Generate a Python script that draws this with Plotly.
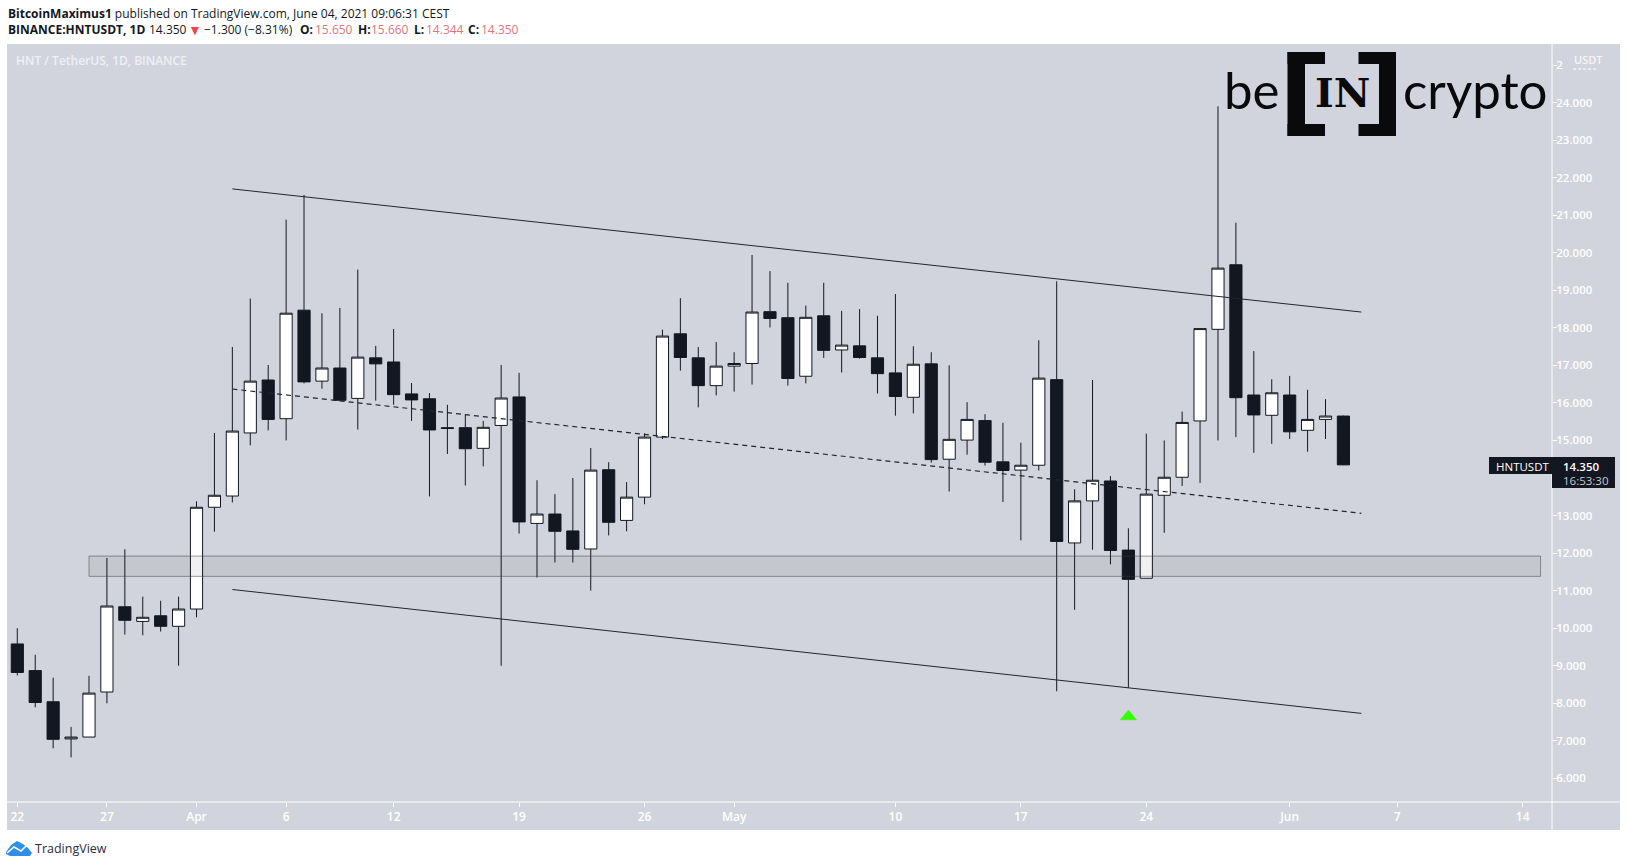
import plotly.graph_objects as go
import pandas as pd

# ---------- data ----------
dates = [str(d.date()) for d in pd.date_range("2021-03-22", "2021-06-04")]
opens = [9.58,8.87,8.04,7.05,7.10,8.30,10.57,10.18,10.33,10.05,10.51,13.22,13.52,15.20,16.61,15.58,18.47,16.58,16.93,16.12,17.20,17.09,16.24,16.11,15.34,15.34,14.79,15.40,16.16,12.79,13.04,12.59,12.11,14.22,12.87,13.49,15.09,17.84,17.20,16.46,16.98,17.05,18.43,18.27,16.71,18.32,17.41,17.52,17.20,16.80,16.15,17.04,14.50,15.01,15.53,14.43,14.21,14.34,16.62,12.27,13.39,13.92,12.08,11.33,13.54,14.02,15.52,17.96,19.68,16.21,15.67,16.21,15.27,15.56,15.65]
highs = [10.00,9.29,8.68,7.37,8.73,11.87,12.10,10.84,10.73,10.84,13.38,15.20,17.49,18.78,17.01,20.88,21.54,18.39,18.53,19.55,17.52,17.97,16.53,16.26,15.95,15.70,15.52,17.01,16.80,13.94,13.57,14.00,14.80,14.42,13.89,15.19,17.95,18.79,17.49,17.62,17.35,19.94,19.51,19.20,18.59,19.20,18.45,18.50,18.32,18.90,17.51,17.35,17.00,16.02,15.70,15.47,14.94,17.67,19.24,13.70,16.61,14.05,12.66,15.18,15.00,15.77,17.98,23.90,20.80,17.38,16.63,16.72,16.35,16.10,15.66]
lows = [8.74,7.89,6.80,6.56,7.10,8.00,9.83,9.81,9.91,9.00,10.29,12.57,13.35,14.87,15.27,15.00,16.52,16.38,16.07,15.29,16.06,15.95,15.52,13.51,14.64,13.80,14.31,9.00,12.52,11.35,11.75,11.75,11.00,12.47,12.58,13.30,15.04,16.86,15.88,16.20,16.30,16.49,18.01,16.46,16.52,17.20,16.81,17.18,16.25,15.66,15.72,14.41,13.64,14.62,14.33,13.36,12.34,14.20,8.32,10.49,12.09,11.70,8.41,11.33,12.54,13.79,13.87,15.00,15.09,14.67,14.91,15.04,14.70,15.04,14.344]
closes = [8.82,8.02,7.04,7.10,8.27,10.59,10.21,10.29,10.05,10.51,13.22,13.54,15.25,16.58,15.56,18.39,16.56,16.93,16.07,17.22,17.04,16.22,16.08,15.28,15.32,14.78,15.35,16.13,12.83,13.04,12.58,12.10,14.21,12.82,13.49,15.09,17.78,17.21,16.46,16.98,17.05,18.42,18.25,16.65,18.28,17.40,17.54,17.21,16.78,16.17,17.03,14.49,15.03,15.56,14.42,14.20,14.34,16.66,12.31,13.39,13.94,12.07,11.30,13.57,14.02,15.48,17.98,19.59,16.14,15.68,16.27,15.23,15.56,15.65,14.35]

channel_x = ["2021-04-03", "2021-06-05"]
channel_top = [21.70, 18.42]
channel_mid = [16.37, 13.06]
channel_bottom = [11.03, 7.73]
zone_x = ["2021-03-26", "2021-06-15"]
zone_y = [11.38, 11.92]
signal_x = ["2021-05-22 13:00", "2021-05-23 00:00", "2021-05-23 11:00", "2021-05-22 13:00"]
signal_y = [7.56, 7.82, 7.56, 7.56]

y_ticks = list(range(6, 26))
y_labels = ["%d.000" % v if v != 14 else "" for v in y_ticks]
y_labels[-1] = "2"
x_ticks = ["2021-03-22","2021-03-27","2021-04-01","2021-04-06","2021-04-12","2021-04-19","2021-04-26","2021-05-01","2021-05-10","2021-05-17","2021-05-24","2021-06-01","2021-06-07","2021-06-14"]
x_labels = ["22","27","Apr","6","12","19","26","May","10","17","24","Jun","7","14"]

# ---------- layout constants ----------
W, H = 1627, 867
L, R, T, B = 7, 1552, 44, 802
BG = "#d1d4dc"
DARK = "#131722"
FONT = "Open Sans"
def px(x): return (x - L) / (R - L)
def py(y): return (B - y) / (B - T)

fig = go.Figure()
fig.add_trace(go.Candlestick(
    x=dates, open=opens, high=highs, low=lows, close=closes,
    whiskerwidth=0,
    increasing=dict(fillcolor="#ffffff", line=dict(color=DARK, width=1)),
    decreasing=dict(fillcolor=DARK, line=dict(color=DARK, width=1)),
    showlegend=False, hoverinfo="skip"))
for ys, dash, lw in ((channel_top, "solid", 1), (channel_mid, "5px,4px", 1.2), (channel_bottom, "solid", 1)):
    fig.add_trace(go.Scatter(x=channel_x, y=ys, mode="lines", showlegend=False, hoverinfo="skip",
                             line=dict(color="#22252e", width=lw, dash=dash)))
fig.add_trace(go.Scatter(x=signal_x, y=signal_y, mode="lines", fill="toself", fillcolor="#33ff00",
                         line=dict(color="#33ff00", width=0.5), showlegend=False, hoverinfo="skip"))

def rect(x0, y0, x1, y1, color, layer="above"):
    fig.add_shape(type="rect", xref="paper", yref="paper", x0=px(x0), x1=px(x1), y0=py(y0), y1=py(y1),
                  fillcolor=color, line=dict(width=0), layer=layer)
def text(x, y, s, size, color="#ffffff", anchor="left", family=FONT, weight=None):
    font = dict(family=family, size=size, color=color)
    if weight:
        font["weight"] = weight
    fig.add_annotation(xref="paper", yref="paper", x=px(x), y=py(y), text=s, showarrow=False,
                       xanchor=anchor, yanchor="middle", align="left", borderpad=0, font=font)

# panel behind the chart
rect(7, 44, 1620, 830, BG, layer="below")
# zone
fig.add_shape(type="rect", xref="x", yref="y", x0=zone_x[0], x1=zone_x[1], y0=zone_y[0], y1=zone_y[1],
              fillcolor="rgba(25,25,25,0.065)", line=dict(color="rgba(60,62,66,0.5)", width=1), layer="above")
# axis lines extending into the panel
fig.add_shape(type="line", xref="paper", yref="paper", x0=px(R), x1=px(R), y0=py(44), y1=py(830),
              line=dict(color="#ffffff", width=1), layer="above")
fig.add_shape(type="line", xref="paper", yref="paper", x0=px(7), x1=px(1620), y0=py(802), y1=py(802),
              line=dict(color="#ffffff", width=1), layer="above")

# header
INK = "#131722"
red = "#dd7680"
text(7, 13, "<b>BitcoinMaximus1</b> published on TradingView.com, June 04, 2021 09:06:31 CEST", 12, INK)
header_row = [(7, "<b>BINANCE:HNTUSDT, 1D</b>", INK), (147.5, "14.350", INK), (203.5, "−1.300 (−8.31%)", INK),
              (299, "<b>O:</b>", INK), (313.5, "15.650", red), (356.5, "<b>H:</b>", INK), (370, "15.660", red),
              (413, "<b>L:</b>", INK), (425, "14.344", red), (467, "<b>C:</b>", INK), (480, "14.350", red)]
for hx, hs, hc in header_row:
    text(hx, 29.5, hs, 12, hc)
text(187, 29.5, "▼", 14, "#ef4350")
text(15, 60.5, "HNT / TetherUS, 1D, BINANCE", 12, "#eef0f4", weight=600)

# price labels
rect(1489, 457, 1552, 474, DARK)
rect(1552, 457, 1615, 488, DARK)
text(1495, 466, "HNTUSDT", 11.5, "#ffffff")
text(1562, 466, "14.350", 11.5, "#ffffff", weight=600)
text(1562, 480, "16:53:30", 11.5, "#c8cad0")

# USDT label
rect(1571, 52, 1606, 68, BG)
text(1573, 59, "USDT", 11, "#f6f7f9", weight=600)
fig.add_shape(type="line", xref="paper", yref="paper", x0=px(1573), x1=px(1597), y0=py(69), y1=py(69),
              line=dict(color="#ffffff", width=1, dash="3px,2px"), layer="above")

# beincrypto logo
LOGO = "#0a0a0c"
for x0, x1, xs0, xs1 in ((1287.5, 1325, 1287.5, 1305), (1358.5, 1396, 1379, 1396)):
    rect(xs0, 52, xs1, 136, LOGO)
    rect(x0, 52, x1, 64, LOGO)
    rect(x0, 124, x1, 136, LOGO)
text(1223, 90, "be", 51, LOGO, family="Lato")
text(1402, 90, "crypto", 51, LOGO, family="Lato")
text(1342, 93, "<b>IN</b>", 40, LOGO, anchor="center", family="DejaVu Serif")

# TradingView footer
BLUE = "#2f8fe6"
def poly(points, **kw):
    d = "M " + " L ".join(f"{px(a)} {py(b)}" for a, b in points)
    fig.add_shape(type="path", xref="paper", yref="paper", layer="above", path=d, **kw)
poly([(6,852),(11,845),(17,841),(23,844),(28,848),(32,853),(30,856),(10,856),(6,854),(6,852)],
     fillcolor=BLUE, line=dict(width=0))
poly([(7,853),(14,847),(21,851),(27,845)], line=dict(color="#ffffff", width=1.5))
text(34, 848, "TradingView", 12.5, "#2a2e39")

fig.update_layout(
    width=W, height=H, autosize=False,
    margin=dict(l=L, r=W - R, t=T, b=H - B, pad=0),
    paper_bgcolor="#ffffff", plot_bgcolor="rgba(0,0,0,0)",
    showlegend=False, boxgap=0.03,
    xaxis=dict(type="date", range=["2021-03-21 10:12", "2021-06-15 15:20"],
               tickmode="array", tickvals=x_ticks, ticktext=x_labels,
               ticks="outside", ticklen=4, tickcolor="#ffffff", tickwidth=1, tickangle=0,
               showgrid=False, zeroline=False, showline=False,
               rangeslider=dict(visible=False),
               tickfont=dict(family=FONT, size=12, color="#ffffff", weight=600)),
    yaxis=dict(side="right", range=[5.37, 25.56], tickmode="array", tickvals=y_ticks, ticktext=y_labels,
               ticks="outside", ticklen=4, tickcolor="#ffffff", tickwidth=1, ticklabelstandoff=-3,
               showgrid=False, zeroline=False, showline=False,
               tickfont=dict(family=FONT, size=11.5, color="#ffffff", weight=600)),
)

fig.write_html("out.html", config={"displayModeBar": False},
               post_script="document.body.style.margin='0';document.documentElement.style.overflow='hidden';")
